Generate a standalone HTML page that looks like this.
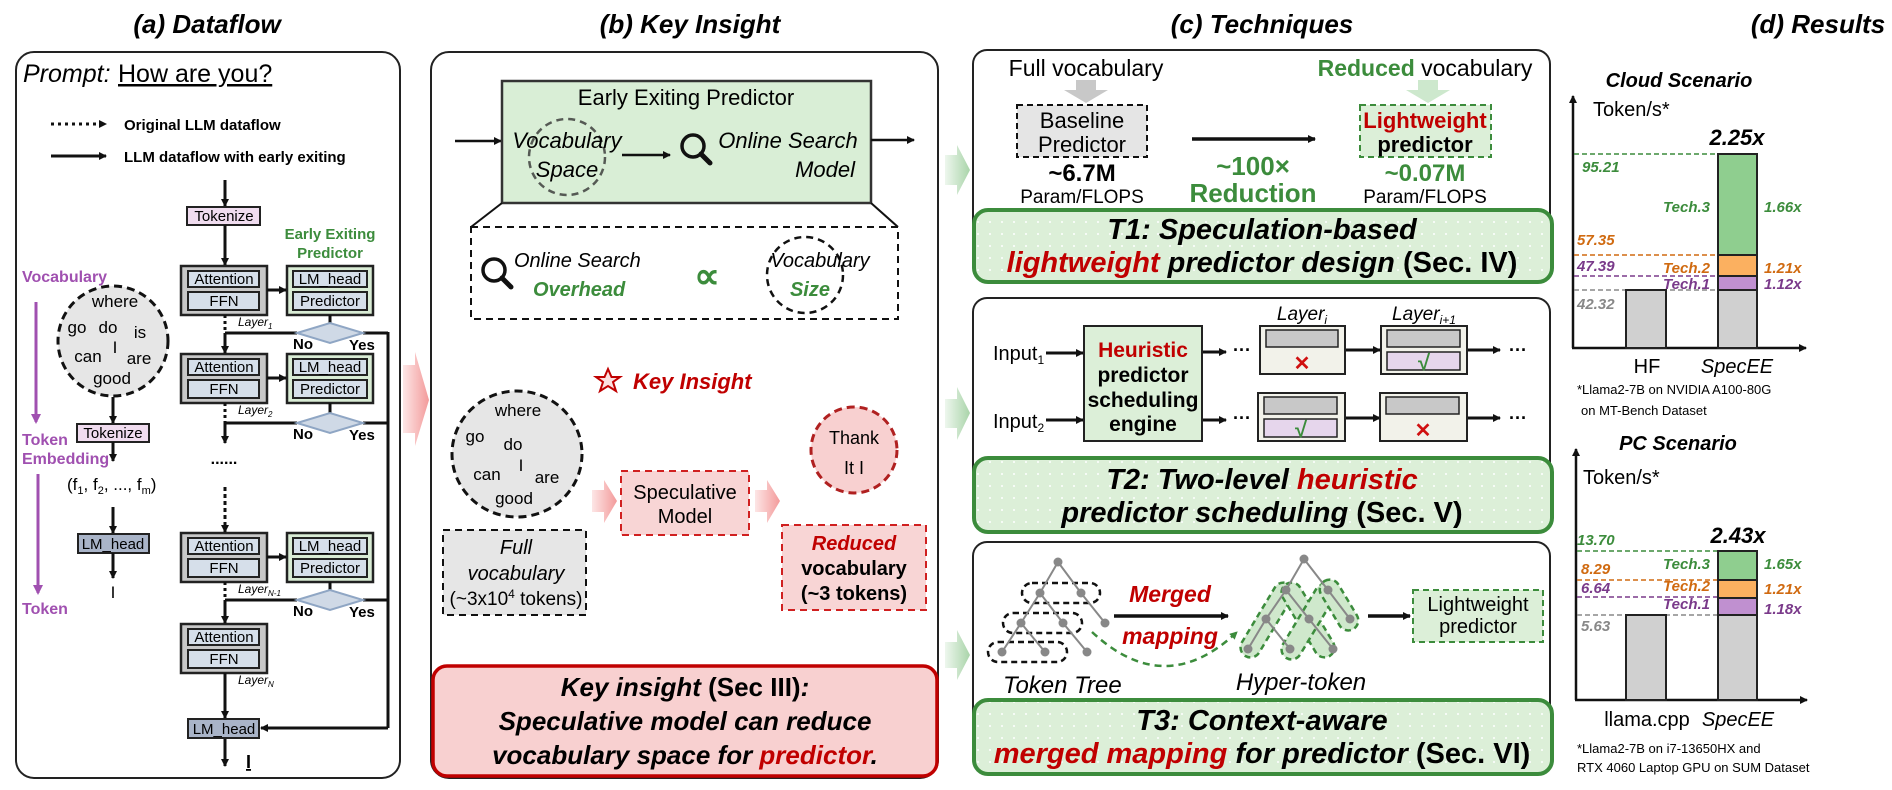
<!DOCTYPE html>
<html><head><meta charset="utf-8"><style>
html,body{margin:0;padding:0;background:#fff}
svg{display:block}
text{font-family:"Liberation Sans",sans-serif}
.n{font-family:"Liberation Sans Narrow","Liberation Sans",sans-serif}
.b{font-weight:bold}.i{font-style:italic}
</style></head><body>
<svg width="1892" height="790" viewBox="0 0 1892 790" xmlns="http://www.w3.org/2000/svg">
<defs>
<marker id="ar" markerWidth="8" markerHeight="8" refX="7" refY="4" orient="auto" markerUnits="userSpaceOnUse"><path d="M0,0 L8,4 L0,8 z" fill="#111"/></marker>
<marker id="arg" markerWidth="8" markerHeight="8" refX="7" refY="4" orient="auto" markerUnits="userSpaceOnUse"><path d="M0,0 L8,4 L0,8 z" fill="#3c8c3c"/></marker>
<marker id="arp" markerWidth="10" markerHeight="10" refX="8" refY="5" orient="auto" markerUnits="userSpaceOnUse"><path d="M0,0 L10,5 L0,10 z" fill="#a050b0"/></marker>
<pattern id="dots" width="12" height="12" patternUnits="userSpaceOnUse"><rect width="12" height="12" fill="#dcefd8"/><circle cx="6" cy="6" r="1" fill="#fff"/></pattern>
<linearGradient id="pk" x1="0" x2="1"><stop offset="0" stop-color="#fde6e6"/><stop offset="1" stop-color="#f39a9a"/></linearGradient>
<linearGradient id="gr" x1="0" x2="1"><stop offset="0" stop-color="#eef7ee"/><stop offset="1" stop-color="#a9d4a9"/></linearGradient>
</defs>

<!-- Titles -->
<text x="207" y="33" text-anchor="middle" class="b i" font-size="26">(a) Dataflow</text>
<text x="690" y="33" text-anchor="middle" class="b i" font-size="26">(b) Key Insight</text>
<text x="1262" y="33" text-anchor="middle" class="b i" font-size="26">(c) Techniques</text>
<text x="1818" y="33" text-anchor="middle" class="b i" font-size="26">(d) Results</text>

<!-- ===== Panel a ===== -->
<rect x="16" y="52" width="384" height="726" rx="18" fill="#fff" stroke="#222" stroke-width="2"/>
<text x="23" y="82" font-size="25" class="i">Prompt:</text>
<text x="118" y="82" font-size="25" text-decoration="underline">How are you?</text>
<line x1="51" y1="124" x2="106" y2="124" stroke="#111" stroke-width="3" stroke-dasharray="3,4" marker-end="url(#ar)"/>
<text x="124" y="130" font-size="15" class="b">Original LLM dataflow</text>
<line x1="51" y1="156" x2="106" y2="156" stroke="#111" stroke-width="3" marker-end="url(#ar)"/>
<text x="124" y="162" font-size="15" class="b">LLM dataflow with early exiting</text>

<!-- main column -->
<line x1="225" y1="180" x2="225" y2="206" stroke="#111" stroke-width="3" marker-end="url(#ar)"/>
<rect x="187" y="207" width="73" height="18" fill="#f0dcef" stroke="#222" stroke-width="2"/>
<text x="224" y="221" text-anchor="middle" font-size="15">Tokenize</text>
<line x1="225" y1="225" x2="225" y2="265" stroke="#111" stroke-width="3" marker-end="url(#ar)"/>
<text x="330" y="239" text-anchor="middle" font-size="15" class="b" fill="#3c8c3c">Early Exiting</text>
<text x="330" y="258" text-anchor="middle" font-size="15" class="b" fill="#3c8c3c">Predictor</text>

<g id="L1">
<rect x="181" y="266" width="86" height="49" fill="#c8c8c8" stroke="#222" stroke-width="2.5"/>
<rect x="188" y="271" width="71" height="16" fill="#d6dfea" stroke="#222" stroke-width="2"/>
<text x="224" y="284" text-anchor="middle" font-size="15">Attention</text>
<rect x="188" y="292" width="71" height="18" fill="#d6dfea" stroke="#222" stroke-width="2"/>
<text x="224" y="306" text-anchor="middle" font-size="15">FFN</text>
</g>
<g id="P1">
<rect x="287" y="266" width="86" height="49" fill="#d9ecd5" stroke="#222" stroke-width="2.5"/>
<rect x="293" y="271" width="74" height="16" fill="#d6dfea" stroke="#222" stroke-width="2"/>
<text x="330" y="284" text-anchor="middle" font-size="15">LM_head</text>
<rect x="293" y="292" width="74" height="18" fill="#d6dfea" stroke="#222" stroke-width="2"/>
<text x="330" y="306" text-anchor="middle" font-size="15">Predictor</text>
</g>
<use href="#L1" y="88"/><use href="#P1" y="88"/>
<use href="#L1" y="267"/><use href="#P1" y="267"/>
<use href="#L1" y="358"/>
<line x1="267" y1="290" x2="286" y2="290" stroke="#111" stroke-width="3" marker-end="url(#ar)"/>
<line x1="267" y1="378" x2="286" y2="378" stroke="#111" stroke-width="3" marker-end="url(#ar)"/>
<line x1="267" y1="557" x2="286" y2="557" stroke="#111" stroke-width="3" marker-end="url(#ar)"/>
<text x="238" y="326" font-size="12" class="i">Layer<tspan font-size="8" dy="3">1</tspan></text>
<text x="238" y="414" font-size="12" class="i">Layer<tspan font-size="8" dy="3">2</tspan></text>
<text x="238" y="593" font-size="12" class="i">Layer<tspan font-size="8" dy="3">N-1</tspan></text>
<text x="238" y="684" font-size="12" class="i">Layer<tspan font-size="8" dy="3">N</tspan></text>

<!-- decision diamonds -->
<g stroke="#111" stroke-width="3" fill="none">
<line x1="330" y1="315" x2="330" y2="323"/><line x1="330" y1="403" x2="330" y2="413"/><line x1="330" y1="582" x2="330" y2="590"/>
<line x1="225" y1="315" x2="225" y2="333" stroke-dasharray="3,3"/>
<line x1="225" y1="403" x2="225" y2="423" stroke-dasharray="3,3"/>
<line x1="225" y1="582" x2="225" y2="600" stroke-dasharray="3,3"/>
<line x1="225" y1="333" x2="297" y2="333"/><line x1="225" y1="423" x2="297" y2="423"/><line x1="225" y1="600" x2="297" y2="600"/>
<line x1="225" y1="333" x2="225" y2="353" marker-end="url(#ar)"/>
<line x1="225" y1="423" x2="225" y2="443" marker-end="url(#ar)"/>
<line x1="225" y1="487" x2="225" y2="532" stroke-dasharray="4,3" marker-end="url(#ar)"/>
<line x1="225" y1="600" x2="225" y2="623" marker-end="url(#ar)"/>
<line x1="225" y1="673" x2="225" y2="718" marker-end="url(#ar)"/>
<line x1="225" y1="738" x2="225" y2="766" marker-end="url(#ar)"/>
<line x1="363" y1="333" x2="388" y2="333"/><line x1="363" y1="423" x2="388" y2="423"/><line x1="363" y1="600" x2="388" y2="600"/>
<line x1="388" y1="332" x2="388" y2="728"/>
<line x1="388" y1="728" x2="261" y2="728" marker-end="url(#ar)"/>
</g>
<g fill="#cfd9e6" stroke="#8fa6c4" stroke-width="2">
<polygon points="297,333 330,323 363,333 330,343"/>
<polygon points="297,423 330,413 363,423 330,433"/>
<polygon points="297,600 330,590 363,600 330,610"/>
</g>
<g font-size="15" class="b">
<text x="293" y="349">No</text><text x="349" y="350">Yes</text>
<text x="293" y="439">No</text><text x="349" y="440">Yes</text>
<text x="293" y="616">No</text><text x="349" y="617">Yes</text>
</g>
<text x="224" y="464" text-anchor="middle" font-size="16" class="b">......</text>
<rect x="188" y="719" width="71" height="19" fill="#a9b4c8" stroke="#222" stroke-width="2"/>
<text x="224" y="734" text-anchor="middle" font-size="15">LM_head</text>
<text x="246" y="768" font-size="18" class="b" text-decoration="underline">I</text>

<!-- left column -->
<text x="22" y="282" font-size="16" class="b" fill="#a050b0">Vocabulary</text>
<line x1="36" y1="302" x2="36" y2="422" stroke="#a050b0" stroke-width="3" marker-end="url(#arp)"/>
<text x="22" y="445" font-size="16" class="b" fill="#a050b0">Token</text>
<text x="22" y="464" font-size="16" class="b" fill="#a050b0">Embedding</text>
<line x1="38" y1="474" x2="38" y2="593" stroke="#a050b0" stroke-width="3" marker-end="url(#arp)"/>
<text x="22" y="614" font-size="16" class="b" fill="#a050b0">Token</text>
<ellipse cx="113" cy="341" rx="55" ry="55" fill="#e6e6e6" stroke="#111" stroke-width="3" stroke-dasharray="8,5"/>
<g font-size="17" font-family="DejaVu Sans" text-anchor="middle">
<text x="115" y="307">where</text><text x="77" y="333">go</text><text x="108" y="333">do</text><text x="140" y="338">is</text>
<text x="88" y="362">can</text><text x="115" y="353">I</text><text x="139" y="364">are</text><text x="112" y="384">good</text>
</g>
<line x1="113" y1="397" x2="113" y2="423" stroke="#111" stroke-width="3" marker-end="url(#ar)"/>
<rect x="77" y="424" width="72" height="18" fill="#f0dcef" stroke="#222" stroke-width="2"/>
<text x="113" y="438" text-anchor="middle" font-size="15">Tokenize</text>
<line x1="113" y1="442" x2="113" y2="461" stroke="#111" stroke-width="3" marker-end="url(#ar)"/>
<text x="67" y="490" font-size="17">(f<tspan font-size="11" dy="4">1</tspan><tspan dy="-4">, f</tspan><tspan font-size="11" dy="4">2</tspan><tspan dy="-4">, ..., f</tspan><tspan font-size="11" dy="4">m</tspan><tspan dy="-4">)</tspan></text>
<line x1="113" y1="507" x2="113" y2="533" stroke="#111" stroke-width="3" marker-end="url(#ar)"/>
<rect x="78" y="534" width="71" height="19" fill="#a9b4c8" stroke="#222" stroke-width="2"/>
<text x="113" y="549" text-anchor="middle" font-size="15">LM_head</text>
<line x1="113" y1="553" x2="113" y2="578" stroke="#111" stroke-width="3" marker-end="url(#ar)"/>
<text x="113" y="598" text-anchor="middle" font-size="17" font-family="DejaVu Sans">I</text>

<!-- pink arrow a->b -->
<polygon points="403,365 415,365 415,352 429,400 415,446 415,433 403,433" fill="url(#pk)"/>

<!-- ===== Panel b ===== -->
<rect x="431" y="52" width="507" height="726" rx="18" fill="#fff" stroke="#222" stroke-width="2"/>
<line x1="455" y1="141" x2="501" y2="141" stroke="#111" stroke-width="2.5" marker-end="url(#ar)"/>
<rect x="502" y="81" width="369" height="122" fill="#d9eed6" stroke="#333" stroke-width="2.5"/>
<line x1="871" y1="140" x2="914" y2="140" stroke="#111" stroke-width="2.5" marker-end="url(#ar)"/>
<text x="686" y="105" text-anchor="middle" font-size="22">Early Exiting Predictor</text>
<ellipse cx="567" cy="157" rx="38" ry="38" fill="none" stroke="#333" stroke-width="2.5" stroke-dasharray="7,5" opacity="0.8"/>
<text x="567" y="148" text-anchor="middle" font-size="22" class="i">Vocabulary</text>
<text x="567" y="177" text-anchor="middle" font-size="22" class="i">Space</text>
<line x1="622" y1="155" x2="670" y2="155" stroke="#111" stroke-width="2.5" marker-end="url(#ar)"/>
<g stroke="#111" stroke-width="3.5" fill="none"><circle cx="693" cy="146" r="11"/><line x1="701" y1="154" x2="710" y2="163" stroke-width="5" stroke-linecap="round"/></g>
<text x="788" y="148" text-anchor="middle" font-size="22" class="i">Online Search</text>
<text x="855" y="177" text-anchor="end" font-size="22" class="i">Model</text>
<line x1="502" y1="203" x2="471" y2="227" stroke="#111" stroke-width="2"/>
<line x1="871" y1="203" x2="898" y2="227" stroke="#111" stroke-width="2"/>
<rect x="471" y="227" width="427" height="92" fill="#fff" stroke="#111" stroke-width="2" stroke-dasharray="7,5"/>
<g stroke="#111" stroke-width="3.5" fill="none"><circle cx="494" cy="270" r="11"/><line x1="502" y1="278" x2="511" y2="287" stroke-width="5" stroke-linecap="round"/></g>
<text x="514" y="267" font-size="20" class="i">Online Search</text>
<text x="533" y="296" font-size="20" class="i b" fill="#3c8c3c">Overhead</text>
<text x="707" y="288" text-anchor="middle" font-size="36" fill="#3c8c3c" class="b">∝</text>
<ellipse cx="805" cy="275" rx="38" ry="38" fill="none" stroke="#111" stroke-width="2.5" stroke-dasharray="7,5"/>
<text x="820" y="267" text-anchor="middle" font-size="20" class="i">Vocabulary</text>
<text x="830" y="296" text-anchor="end" font-size="20" class="i b" fill="#3c8c3c">Size</text>
<polygon points="608,369 611.5,377 620,377 613,382 616,391 608,386 600,391 603,382 596,377 604.5,377" fill="#fbe0e0" stroke="#c00000" stroke-width="2"/>
<text x="633" y="389" font-size="22" class="b i" fill="#c00000">Key Insight</text>
<ellipse cx="517" cy="454" rx="65" ry="63" fill="#e6e6e6" stroke="#111" stroke-width="3" stroke-dasharray="8,5"/>
<g font-size="17" font-family="DejaVu Sans" text-anchor="middle">
<text x="518" y="416">where</text><text x="475" y="442">go</text><text x="513" y="450">do</text>
<text x="487" y="480">can</text><text x="521" y="471">I</text><text x="547" y="483">are</text><text x="514" y="504">good</text>
</g>
<rect x="443" y="530" width="143" height="85" fill="#e6e6e6" stroke="#111" stroke-width="2" stroke-dasharray="7,5"/>
<text x="516" y="554" text-anchor="middle" font-size="20" class="i">Full</text>
<text x="516" y="580" text-anchor="middle" font-size="20" class="i">vocabulary</text>
<text x="516" y="605" text-anchor="middle" font-size="19">(~3x10<tspan font-size="12" dy="-7">4</tspan><tspan dy="7"> tokens)</tspan></text>
<polygon points="592,490 604,490 604,480 617,501 604,523 604,512 592,512" fill="url(#pk)"/>
<rect x="621" y="471" width="128" height="64" fill="#f8d5d5" stroke="#d02020" stroke-width="2" stroke-dasharray="7,5"/>
<text x="685" y="499" text-anchor="middle" font-size="20">Speculative</text>
<text x="685" y="523" text-anchor="middle" font-size="20">Model</text>
<polygon points="755,490 767,490 767,480 780,501 767,523 767,512 755,512" fill="url(#pk)"/>
<ellipse cx="854" cy="450" rx="43" ry="43" fill="#f8d0d0" stroke="#b02020" stroke-width="3" stroke-dasharray="8,5"/>
<text x="854" y="444" text-anchor="middle" font-size="18" font-family="DejaVu Sans">Thank</text>
<text x="854" y="474" text-anchor="middle" font-size="18" font-family="DejaVu Sans">It  I</text>
<rect x="782" y="525" width="144" height="85" fill="#f8d5d5" stroke="#d02020" stroke-width="2" stroke-dasharray="7,5"/>
<text x="854" y="550" text-anchor="middle" font-size="20" class="n b i" fill="#c00000">Reduced</text>
<text x="854" y="575" text-anchor="middle" font-size="20" class="n b">vocabulary</text>
<text x="854" y="600" text-anchor="middle" font-size="20" class="n b">(~3 tokens)</text>
<rect x="433" y="666" width="504" height="110" rx="14" fill="#f8d0d0" stroke="#c00000" stroke-width="3.5"/>
<text x="685" y="696" text-anchor="middle" font-size="26" class="b i"><tspan>Key insight</tspan><tspan font-style="normal"> (Sec III)</tspan>:</text>
<text x="685" y="730" text-anchor="middle" font-size="26" class="b i">Speculative model can reduce</text>
<text x="685" y="764" text-anchor="middle" font-size="26" class="b i">vocabulary space for <tspan fill="#c00000">predictor</tspan>.</text>

<!-- green arrows b->c -->
<polygon points="945,155 957,155 957,145 970,170 957,195 957,185 945,185" fill="url(#gr)"/>
<polygon points="945,399 957,399 957,387 970,413 957,440 957,428 945,428" fill="url(#gr)"/>
<polygon points="945,642 957,642 957,630 970,655 957,680 957,668 945,668" fill="url(#gr)"/>

<!-- ===== Panel c ===== -->
<rect x="973" y="50" width="577" height="226" rx="14" fill="#fff" stroke="#222" stroke-width="2"/>
<rect x="973" y="298" width="577" height="230" rx="14" fill="#fff" stroke="#222" stroke-width="2"/>
<rect x="973" y="542" width="577" height="228" rx="14" fill="#fff" stroke="#222" stroke-width="2"/>

<!-- T1 -->
<text x="1086" y="76" text-anchor="middle" font-size="23" class="n">Full vocabulary</text>
<polygon points="1076,80 1096,80 1096,90 1108,90 1086,103 1064,90 1076,90" fill="#c8c8c8"/>
<rect x="1017" y="105" width="130" height="52" fill="#e5e5e5" stroke="#111" stroke-width="2" stroke-dasharray="6,4"/>
<text x="1082" y="128" text-anchor="middle" font-size="22" class="n">Baseline</text>
<text x="1082" y="152" text-anchor="middle" font-size="22" class="n">Predictor</text>
<text x="1082" y="181" text-anchor="middle" font-size="24" class="n b">~6.7M</text>
<text x="1082" y="203" text-anchor="middle" font-size="19" class="n">Param/FLOPS</text>
<line x1="1192" y1="139" x2="1315" y2="139" stroke="#111" stroke-width="3.5" marker-end="url(#ar)"/>
<text x="1253" y="175" text-anchor="middle" font-size="26" class="n b" fill="#3c8c3c">~100×</text>
<text x="1253" y="202" text-anchor="middle" font-size="26" class="n b" fill="#3c8c3c">Reduction</text>
<text x="1425" y="76" text-anchor="middle" font-size="23" class="n"><tspan class="b" fill="#3c8c3c">Reduced</tspan> vocabulary</text>
<polygon points="1418,80 1438,80 1438,90 1450,90 1428,103 1406,90 1418,90" fill="#cde8cd"/>
<rect x="1360" y="105" width="131" height="52" fill="#dcefd8" stroke="#3c8c3c" stroke-width="2" stroke-dasharray="6,4"/>
<text x="1425" y="128" text-anchor="middle" font-size="22" class="n b" fill="#c00000">Lightweight</text>
<text x="1425" y="152" text-anchor="middle" font-size="22" class="n b">predictor</text>
<text x="1425" y="181" text-anchor="middle" font-size="24" class="n b" fill="#3c8c3c">~0.07M</text>
<text x="1425" y="203" text-anchor="middle" font-size="19" class="n">Param/FLOPS</text>
<rect x="974" y="210" width="578" height="72" rx="14" fill="url(#dots)" stroke="#3c8c3c" stroke-width="4"/>
<text x="1262" y="239" text-anchor="middle" font-size="29" class="n b i">T1: Speculation-based</text>
<text x="1262" y="272" text-anchor="middle" font-size="29" class="n b i"><tspan fill="#c00000">lightweight</tspan>  predictor design <tspan font-style="normal">(Sec. IV)</tspan></text>

<!-- T2 -->
<text x="1302" y="320" text-anchor="middle" font-size="19" class="n i">Layer<tspan font-size="12" dy="4">i</tspan></text>
<text x="1424" y="320" text-anchor="middle" font-size="19" class="n i">Layer<tspan font-size="12" dy="4">i+1</tspan></text>
<text x="993" y="360" font-size="20" class="n">Input<tspan font-size="12" dy="4">1</tspan></text>
<text x="993" y="428" font-size="20" class="n">Input<tspan font-size="12" dy="4">2</tspan></text>
<g stroke="#111" stroke-width="3">
<line x1="1046" y1="353" x2="1083" y2="353" marker-end="url(#ar)"/>
<line x1="1046" y1="420" x2="1083" y2="420" marker-end="url(#ar)"/>
<line x1="1202" y1="352" x2="1226" y2="352" marker-end="url(#ar)"/>
<line x1="1202" y1="420" x2="1226" y2="420" marker-end="url(#ar)"/>
<line x1="1345" y1="350" x2="1380" y2="350" marker-end="url(#ar)"/>
<line x1="1345" y1="418" x2="1380" y2="418" marker-end="url(#ar)"/>
<line x1="1467" y1="350" x2="1500" y2="350" marker-end="url(#ar)"/>
<line x1="1467" y1="418" x2="1500" y2="418" marker-end="url(#ar)"/>
</g>
<text x="1242" y="356" text-anchor="middle" font-size="18" class="b">···</text>
<text x="1242" y="424" text-anchor="middle" font-size="18" class="b">···</text>
<text x="1518" y="356" text-anchor="middle" font-size="18" class="b">···</text>
<text x="1518" y="424" text-anchor="middle" font-size="18" class="b">···</text>
<rect x="1084" y="326" width="118" height="115" fill="#dcefd8" stroke="#222" stroke-width="2"/>
<text x="1143" y="357" text-anchor="middle" font-size="21" class="n b" fill="#c00000">Heuristic</text>
<text x="1143" y="382" text-anchor="middle" font-size="21" class="n b">predictor</text>
<text x="1143" y="407" text-anchor="middle" font-size="21" class="n b">scheduling</text>
<text x="1143" y="431" text-anchor="middle" font-size="21" class="n b">engine</text>
<!-- row1 -->
<rect x="1260" y="326" width="85" height="48" fill="#f2f2ea" stroke="#222" stroke-width="2"/>
<rect x="1266" y="330" width="72" height="17" fill="#c8c8c8" stroke="#222" stroke-width="1.5"/>
<text x="1302" y="370" text-anchor="middle" font-size="20" class="b" fill="#d01010">✕</text>
<rect x="1381" y="326" width="86" height="48" fill="#f2f2ea" stroke="#222" stroke-width="2"/>
<rect x="1387" y="330" width="73" height="17" fill="#c8c8c8" stroke="#222" stroke-width="1.5"/>
<rect x="1387" y="352" width="73" height="18" fill="#e6d6ec" stroke="#222" stroke-width="1.5"/>
<text x="1424" y="370" text-anchor="middle" font-size="22" class="b" fill="#3c8c3c">√</text>
<!-- row2 -->
<rect x="1258" y="393" width="87" height="48" fill="#f2f2ea" stroke="#222" stroke-width="2"/>
<rect x="1264" y="397" width="73" height="17" fill="#c8c8c8" stroke="#222" stroke-width="1.5"/>
<rect x="1264" y="419" width="73" height="18" fill="#e6d6ec" stroke="#222" stroke-width="1.5"/>
<text x="1301" y="437" text-anchor="middle" font-size="22" class="b" fill="#3c8c3c">√</text>
<rect x="1380" y="393" width="87" height="48" fill="#f2f2ea" stroke="#222" stroke-width="2"/>
<rect x="1386" y="397" width="73" height="17" fill="#c8c8c8" stroke="#222" stroke-width="1.5"/>
<text x="1423" y="437" text-anchor="middle" font-size="20" class="b" fill="#d01010">✕</text>
<rect x="974" y="458" width="578" height="74" rx="14" fill="url(#dots)" stroke="#3c8c3c" stroke-width="4"/>
<text x="1262" y="489" text-anchor="middle" font-size="29" class="n b i">T2: Two-level <tspan fill="#c00000">heuristic</tspan></text>
<text x="1262" y="522" text-anchor="middle" font-size="29" class="n b i">predictor scheduling <tspan font-style="normal">(Sec. V)</tspan></text>

<!-- T3 -->
<g stroke="#111" stroke-width="2.5" fill="none" stroke-dasharray="6,4">
<rect x="1022" y="583" width="78" height="20" rx="10"/>
<rect x="1003" y="613" width="79" height="20" rx="10"/>
<rect x="988" y="642" width="79" height="20" rx="10"/>
</g>
<g stroke="#888" stroke-width="2" fill="none">
<polyline points="1058,562 1040,593 1021,623 1002,652"/>
<polyline points="1058,562 1081,593 1105,623"/>
<polyline points="1040,593 1063,623 1087,652"/>
<polyline points="1021,623 1045,652"/>
</g>
<g fill="#888">
<circle cx="1058" cy="562" r="4.5"/><circle cx="1040" cy="593" r="4.5"/><circle cx="1081" cy="593" r="4.5"/>
<circle cx="1021" cy="623" r="4.5"/><circle cx="1063" cy="623" r="4.5"/><circle cx="1105" cy="623" r="4.5"/>
<circle cx="1002" cy="652" r="4.5"/><circle cx="1045" cy="652" r="4.5"/><circle cx="1087" cy="652" r="4.5"/>
</g>
<text x="1003" y="693" font-size="24" class="n i">Token Tree</text>
<line x1="1114" y1="616" x2="1228" y2="616" stroke="#111" stroke-width="3.5" marker-end="url(#ar)"/>
<text x="1170" y="602" text-anchor="middle" font-size="23" class="n b i" fill="#c00000">Merged</text>
<text x="1170" y="644" text-anchor="middle" font-size="23" class="n b i" fill="#c00000">mapping</text>
<path d="M1092,632 Q1165,700 1237,632" fill="none" stroke="#3c8c3c" stroke-width="2.5" stroke-dasharray="7,5" marker-end="url(#arg)"/>
<g fill="#cfe8cc" stroke="#3c8c3c" stroke-width="2.5" stroke-dasharray="6,4">
<rect x="-10" y="-42" width="20" height="84" rx="10" transform="translate(1267,620) rotate(31)"/>
<rect x="-10" y="-42" width="20" height="84" rx="10" transform="translate(1308,620) rotate(-31)"/>
<rect x="-10" y="-42" width="20" height="84" rx="10" transform="translate(1308,622) rotate(31)"/>
<rect x="-10" y="-28" width="20" height="56" rx="10" transform="translate(1339,605) rotate(-31)"/>
</g>
<g stroke="#888" stroke-width="2" fill="none">
<polyline points="1304,559 1286,590 1266,619 1248,649"/>
<polyline points="1304,559 1328,590 1350,619"/>
<polyline points="1286,590 1309,619 1333,649"/>
<polyline points="1266,619 1290,649"/>
</g>
<g fill="#888">
<circle cx="1304" cy="559" r="4.5"/><circle cx="1286" cy="590" r="4.5"/><circle cx="1328" cy="590" r="4.5"/>
<circle cx="1266" cy="619" r="4.5"/><circle cx="1309" cy="619" r="4.5"/><circle cx="1350" cy="619" r="4.5"/>
<circle cx="1248" cy="649" r="4.5"/><circle cx="1290" cy="649" r="4.5"/><circle cx="1333" cy="649" r="4.5"/>
</g>
<text x="1301" y="690" text-anchor="middle" font-size="24" class="n i">Hyper-token</text>
<line x1="1368" y1="616" x2="1410" y2="616" stroke="#111" stroke-width="3.5" marker-end="url(#ar)"/>
<rect x="1413" y="590" width="130" height="52" fill="#dcefd8" stroke="#3c8c3c" stroke-width="2" stroke-dasharray="6,4"/>
<text x="1478" y="611" text-anchor="middle" font-size="20" class="n">Lightweight</text>
<text x="1478" y="633" text-anchor="middle" font-size="20" class="n">predictor</text>
<rect x="974" y="700" width="578" height="74" rx="14" fill="url(#dots)" stroke="#3c8c3c" stroke-width="4"/>
<text x="1262" y="730" text-anchor="middle" font-size="29" class="n b i">T3: Context-aware</text>
<text x="1262" y="763" text-anchor="middle" font-size="29" class="n b i"><tspan fill="#c00000">merged mapping</tspan> for predictor <tspan font-style="normal">(Sec. VI)</tspan></text>

<!-- ===== Panel d ===== -->
<text x="1679" y="87" text-anchor="middle" font-size="20" class="b i">Cloud Scenario</text>
<line x1="1573" y1="348" x2="1573" y2="96" stroke="#111" stroke-width="2.5" marker-end="url(#ar)"/>
<line x1="1572" y1="348" x2="1806" y2="348" stroke="#111" stroke-width="2.5" marker-end="url(#ar)"/>
<text x="1593" y="116" font-size="20">Token/s*</text>
<text x="1737" y="145" text-anchor="middle" font-size="22" class="b i">2.25x</text>
<g stroke-width="1.5" stroke-dasharray="5,3">
<line x1="1574" y1="154" x2="1718" y2="154" stroke="#3c8c3c"/>
<line x1="1574" y1="255" x2="1718" y2="255" stroke="#d06a10"/>
<line x1="1574" y1="276" x2="1718" y2="276" stroke="#7a3a8a"/>
<line x1="1574" y1="290" x2="1718" y2="290" stroke="#888"/>
</g>
<g stroke="#222" stroke-width="2">
<rect x="1718" y="154" width="39" height="101" fill="#8fce8f"/>
<rect x="1718" y="255" width="39" height="21" fill="#fbb060"/>
<rect x="1718" y="276" width="39" height="14" fill="#c090d0"/>
<rect x="1718" y="290" width="39" height="58" fill="#d0d0d0"/>
<rect x="1626" y="290" width="40" height="58" fill="#d0d0d0"/>
</g>
<g font-size="15" class="b i">
<text x="1582" y="172" fill="#3c8c3c">95.21</text>
<text x="1710" y="212" text-anchor="end" fill="#3c8c3c">Tech.3</text>
<text x="1764" y="212" fill="#3c8c3c">1.66x</text>
<text x="1577" y="245" fill="#d06a10">57.35</text>
<text x="1577" y="271" fill="#7a3a8a">47.39</text>
<text x="1710" y="273" text-anchor="end" fill="#d06a10">Tech.2</text>
<text x="1764" y="273" fill="#d06a10">1.21x</text>
<text x="1710" y="289" text-anchor="end" fill="#7a3a8a">Tech.1</text>
<text x="1764" y="289" fill="#7a3a8a">1.12x</text>
<text x="1577" y="309" fill="#888">42.32</text>
</g>
<text x="1647" y="373" text-anchor="middle" font-size="20">HF</text>
<text x="1737" y="373" text-anchor="middle" font-size="20" class="i">SpecEE</text>
<text x="1577" y="394" font-size="13">*Llama2-7B on NVIDIA A100-80G</text>
<text x="1581" y="415" font-size="13">on MT-Bench Dataset</text>

<text x="1678" y="450" text-anchor="middle" font-size="20" class="b i">PC Scenario</text>
<line x1="1576" y1="700" x2="1576" y2="449" stroke="#111" stroke-width="2.5" marker-end="url(#ar)"/>
<line x1="1575" y1="700" x2="1807" y2="700" stroke="#111" stroke-width="2.5" marker-end="url(#ar)"/>
<text x="1583" y="484" font-size="20">Token/s*</text>
<text x="1738" y="543" text-anchor="middle" font-size="22" class="b i">2.43x</text>
<g stroke-width="1.5" stroke-dasharray="5,3">
<line x1="1577" y1="551" x2="1718" y2="551" stroke="#3c8c3c"/>
<line x1="1577" y1="580" x2="1718" y2="580" stroke="#d06a10"/>
<line x1="1577" y1="597" x2="1718" y2="597" stroke="#7a3a8a"/>
<line x1="1577" y1="615" x2="1718" y2="615" stroke="#888"/>
</g>
<g stroke="#222" stroke-width="2">
<rect x="1718" y="551" width="39" height="29" fill="#8fce8f"/>
<rect x="1718" y="580" width="39" height="18" fill="#fbb060"/>
<rect x="1718" y="598" width="39" height="17" fill="#c090d0"/>
<rect x="1718" y="615" width="39" height="85" fill="#d0d0d0"/>
<rect x="1626" y="615" width="40" height="85" fill="#d0d0d0"/>
</g>
<g font-size="15" class="b i">
<text x="1577" y="545" fill="#3c8c3c">13.70</text>
<text x="1710" y="569" text-anchor="end" fill="#3c8c3c">Tech.3</text>
<text x="1764" y="569" fill="#3c8c3c">1.65x</text>
<text x="1581" y="574" fill="#d06a10">8.29</text>
<text x="1581" y="593" fill="#7a3a8a">6.64</text>
<text x="1710" y="591" text-anchor="end" fill="#d06a10">Tech.2</text>
<text x="1764" y="594" fill="#d06a10">1.21x</text>
<text x="1710" y="609" text-anchor="end" fill="#7a3a8a">Tech.1</text>
<text x="1764" y="614" fill="#7a3a8a">1.18x</text>
<text x="1581" y="631" fill="#888">5.63</text>
</g>
<text x="1647" y="726" text-anchor="middle" font-size="20">llama.cpp</text>
<text x="1738" y="726" text-anchor="middle" font-size="20" class="i">SpecEE</text>
<text x="1577" y="753" font-size="13">*Llama2-7B on i7-13650HX and</text>
<text x="1577" y="772" font-size="13">RTX 4060 Laptop GPU on SUM Dataset</text>
</svg>
</body></html>
